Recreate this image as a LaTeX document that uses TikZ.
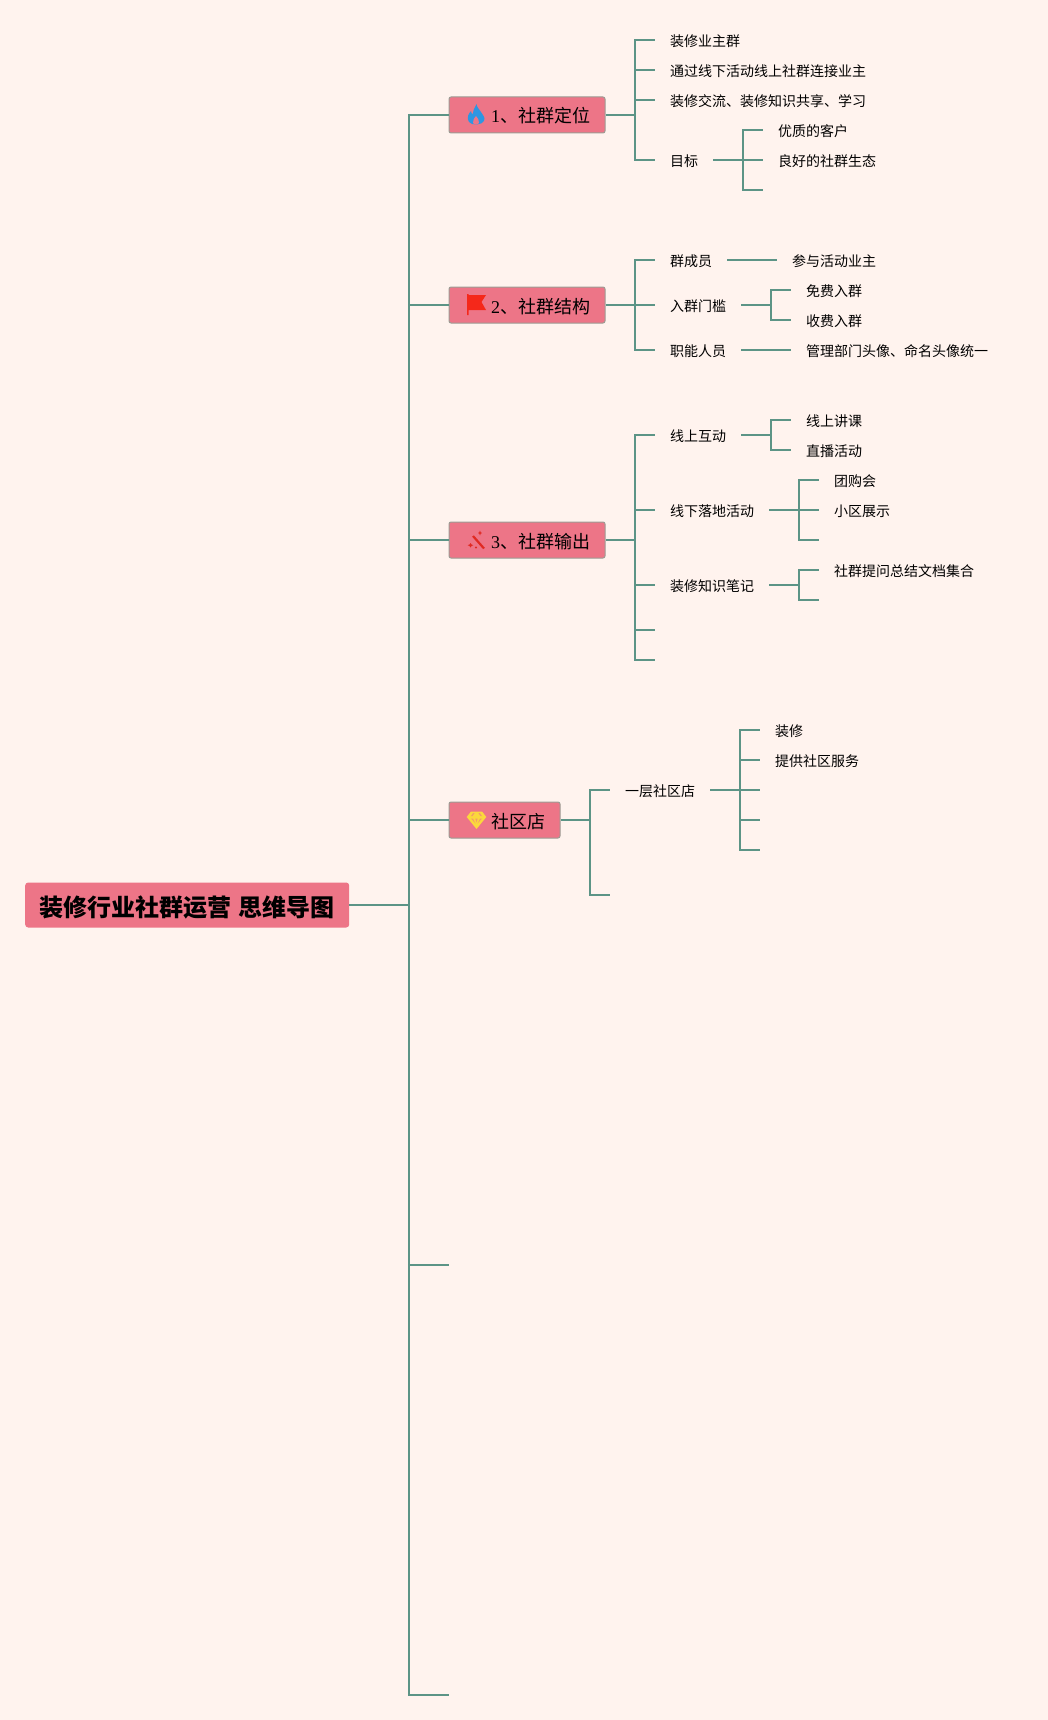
\documentclass[tikz,border=0pt]{standalone}
\usepackage{fontspec}
\setmainfont{Noto Sans CJK SC}
\newfontfamily\numfont{Liberation Serif}
\definecolor{pagebg}{HTML}{FFF3EE}
\definecolor{linkcol}{HTML}{5C9486}
\definecolor{boxfill}{HTML}{ED7587}
\definecolor{boxedge}{HTML}{9C9C94}
\definecolor{flameblue}{HTML}{2E96E2}
\definecolor{flagred}{HTML}{F5281A}
\definecolor{wandred}{HTML}{E02A22}
\definecolor{gemyellow}{HTML}{FBD83C}
\tikzset{
    flameicon/.pic={
        \fill[flameblue] (0.5,-11) .. controls (1,-7) and (3.5,-6) .. (5,-3) .. controls (6,0) and (10,2) .. (8,6)
            .. controls (6.5,10) and (-4.5,11) .. (-7,7) .. controls (-10,3) and (-7,-2) .. (-5,-4)
            .. controls (-5,-2) and (-4,-1) .. (-3,-1) .. controls (-3,-5) and (-1,-8) .. (0.5,-11) -- cycle;
        \fill[boxfill] (0,1) .. controls (1,3) and (4,5) .. (3,8) .. controls (2,10) and (-2,10) .. (-3,8)
            .. controls (-4,5) and (-1,3) .. (0,1) -- cycle;
    },
    flagicon/.pic={
        \fill[flagred] (-9.5,-11) -- (-8,-11) -- (-8,-10) -- (9.5,-10) -- (5,-3) -- (9.5,5) -- (-8,5) -- (-8,10) -- (-9.5,10) -- cycle;
    },
    wandicon/.pic={
        \draw[wandred, line width=2.2pt] (-3.5,-4) -- (7.5,8.5);
        \fill[wandred] (3.5,-9.5) -- (4.2,-7.7) -- (5.5,-7) -- (4.2,-6.3) -- (3.5,-4.5) -- (2.8,-6.3) -- (1.5,-7) -- (2.8,-7.7) -- cycle;
        \fill[wandred] (-6,3) -- (-5,4.5) -- (-3.2,5.2) -- (-5,6) -- (-6,7.5) -- (-7,6) -- (-8.8,5.2) -- (-7,4.5) -- cycle;
        \fill[wandred] (-0.5,7.5) circle (1.2);
    },
    gemicon/.pic={
        \fill[gemyellow] (-5.5,-8.5) -- (5.5,-8.5) -- (9.8,-3) -- (0,9) -- (-9.8,-3) -- cycle;
        \fill[boxfill!60!gemyellow] (-3.5,-6.8) -- (-2,-6.8) -- (-4,-3.8) -- (-5.6,-3.8) -- cycle;
        \fill[boxfill!60!gemyellow] (3.5,-6.8) -- (2,-6.8) -- (4,-3.8) -- (5.6,-3.8) -- cycle;
        \fill[boxfill!60!gemyellow] (-5.5,-1.5) -- (-3.6,-1.5) -- (-1,3.5) -- cycle;
        \fill[boxfill!60!gemyellow] (5.5,-1.5) -- (3.6,-1.5) -- (1,3.5) -- cycle;
        \fill[boxfill!60!gemyellow] (-1.2,-1.5) -- (1.2,-1.5) -- (0,2.5) -- cycle;
    },
}
\begin{document}
\begin{tikzpicture}[
    x=1pt, y=-1pt,
    link/.style={draw=linkcol, line width=2pt},
    rootbox/.style={fill=boxfill, rounded corners=3pt, minimum width=324pt, minimum height=45pt, inner xsep=0pt, inner ysep=0pt, anchor=west, font=\fontsize{24}{28}\bfseries, text height=23pt, text depth=0pt},
    secbox/.style={fill=boxfill, draw=boxedge, line width=1pt, rounded corners=2pt, minimum height=36pt, inner xsep=15pt, inner ysep=0pt, anchor=west, font=\fontsize{18}{22}\selectfont, text height=16pt, text depth=0pt},
    leaf/.style={inner xsep=15pt, inner ysep=0pt, anchor=west, font=\fontsize{14}{17}\selectfont, text height=13.4pt, text depth=0pt},
]

\path[fill=pagebg, use as bounding box] (0,0) rectangle (1048,1720);

\node[rootbox] (root) at (25,905) {装修行业社群运营\hspace{7pt}思维导图};

\node[secbox] (sec1) at (448.5,115) {\hspace*{27pt}{\numfont 1}、社群定位};
\node[secbox] (sec2) at (448.5,305) {\hspace*{27pt}{\numfont 2}、社群结构};
\node[secbox] (sec3) at (448.5,540) {\hspace*{27pt}{\numfont 3}、社群输出};
\node[secbox] (sec4) at (448.5,820) {\hspace*{27pt}社区店};

\pic at (476,115) {flameicon};
\pic at (476.5,305) {flagicon};
\pic at (476.5,540) {wandicon};
\pic at (476.5,820) {gemicon};

% root -> sections
\coordinate (trunk) at (409,905);
\coordinate (end1) at (449,1265);
\coordinate (end2) at (449,1695);
\draw[link] (root.east) -- (trunk);
\foreach \n in {sec1,sec2,sec3,sec4,end1,end2}
    \draw[link] (trunk) |- (\n.west);

% section 1
\node[leaf] (a1) at (655,40)  {装修业主群};
\node[leaf] (a2) at (655,70)  {通过线下活动线上社群连接业主};
\node[leaf] (a3) at (655,100) {装修交流、装修知识共享、学习};
\node[leaf] (a4) at (655,160) {目标};
\node[leaf] (a41) at (763,130) {优质的客户};
\node[leaf] (a42) at (763,160) {良好的社群生态};
\coordinate (a43) at (763,190);
\coordinate (bus1) at (635,115);
\coordinate (bus4) at (743,160);
\draw[link] (sec1.east) -- (bus1);
\foreach \n in {a1,a2,a3,a4}
    \draw[link] (bus1) |- (\n.west);
\draw[link] (a4.east) -- (bus4);
\foreach \n in {a41,a42,a43}
    \draw[link] (bus4) |- (\n);

% section 2
\node[leaf] (b1) at (655,260) {群成员};
\node[leaf] (b2) at (655,305) {入群门槛};
\node[leaf] (b3) at (655,350) {职能人员};
\node[leaf] (b11) at (777,260) {参与活动业主};
\node[leaf] (b21) at (791,290) {免费入群};
\node[leaf] (b22) at (791,320) {收费入群};
\node[leaf] (b31) at (791,350) {管理部门头像、命名头像统一};
\coordinate (bus2) at (635,305);
\coordinate (bus5) at (771,305);
\draw[link] (sec2.east) -- (bus2);
\foreach \n in {b1,b2,b3}
    \draw[link] (bus2) |- (\n.west);
\draw[link] (b1.east) -- (b11.west);
\draw[link] (b2.east) -- (bus5);
\foreach \n in {b21,b22}
    \draw[link] (bus5) |- (\n.west);
\draw[link] (b3.east) -- (b31.west);

% section 3
\node[leaf] (c1) at (655,435) {线上互动};
\node[leaf] (c2) at (655,510) {线下落地活动};
\node[leaf] (c3) at (655,585) {装修知识笔记};
\coordinate (c4) at (655,630);
\coordinate (c5) at (655,660);
\node[leaf] (c11) at (791,420) {线上讲课};
\node[leaf] (c12) at (791,450) {直播活动};
\node[leaf] (c21) at (819,480) {团购会};
\node[leaf] (c22) at (819,510) {小区展示};
\coordinate (c23) at (819,540);
\node[leaf] (c31) at (819,570) {社群提问总结文档集合};
\coordinate (c32) at (819,600);
\coordinate (bus3) at (635,540);
\coordinate (bus6) at (771,435);
\coordinate (bus7) at (799,510);
\coordinate (bus8) at (799,585);
\draw[link] (sec3.east) -- (bus3);
\foreach \n in {c1,c2,c3}
    \draw[link] (bus3) |- (\n.west);
\foreach \n in {c4,c5}
    \draw[link] (bus3) |- (\n);
\draw[link] (c1.east) -- (bus6);
\foreach \n in {c11,c12}
    \draw[link] (bus6) |- (\n.west);
\draw[link] (c2.east) -- (bus7);
\foreach \n in {c21,c22}
    \draw[link] (bus7) |- (\n.west);
\draw[link] (bus7) |- (c23);
\draw[link] (c3.east) -- (bus8);
\draw[link] (bus8) |- (c31.west);
\draw[link] (bus8) |- (c32);

% section 4
\node[leaf] (d1) at (610,790) {一层社区店};
\coordinate (d2) at (610,895);
\node[leaf] (d11) at (760,730) {装修};
\node[leaf] (d12) at (760,760) {提供社区服务};
\coordinate (d13) at (760,790);
\coordinate (d14) at (760,820);
\coordinate (d15) at (760,850);
\coordinate (bus9) at (590,820);
\coordinate (bus10) at (740,790);
\draw[link] (sec4.east) -- (bus9);
\draw[link] (bus9) |- (d1.west);
\draw[link] (bus9) |- (d2);
\draw[link] (d1.east) -- (bus10);
\foreach \n in {d11,d12}
    \draw[link] (bus10) |- (\n.west);
\foreach \n in {d13,d14,d15}
    \draw[link] (bus10) |- (\n);

\end{tikzpicture}
\end{document}
